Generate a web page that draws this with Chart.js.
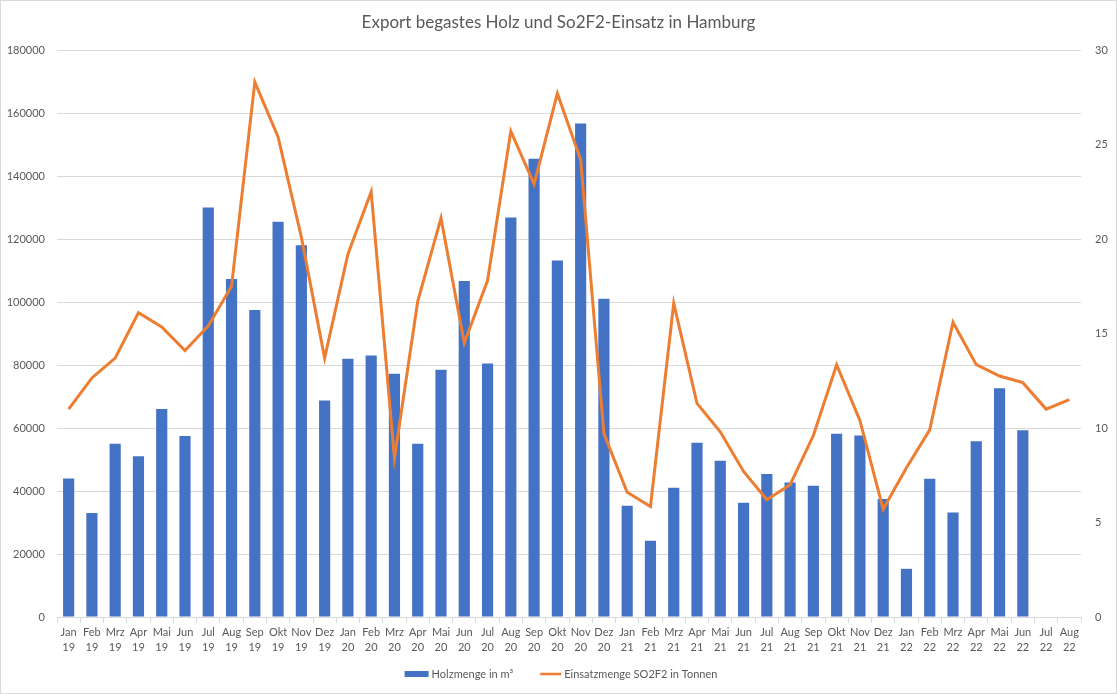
<!DOCTYPE html>
<html>
<head>
<meta charset="utf-8">
<script src="https://cdn.jsdelivr.net/npm/chart.js@4.4.0/dist/chart.umd.min.js"></script>
<style>
html,body{margin:0;padding:0;background:#fff;}
#wrap{width:1117px;height:694px;position:relative;}
</style>
</head>
<body>
<div id="wrap"><canvas id="c" width="1117" height="694"></canvas></div>
<script>
const months = ["Jan","Feb","Mrz","Apr","Mai","Jun","Jul","Aug","Sep","Okt","Nov","Dez"];
const years = ["19","20","21","22"];
const categories = [];
for (const y of years) for (const m of months) categories.push([m, y]);
categories.length = 44; // Jan 19 .. Aug 22

const holzmenge = [
  44000, 33000, 55000, 51000, 66000, 57500, 130000, 107300, 97500, 125500, 118000, 68700,
  82000, 83000, 77200, 55000, 78500, 106700, 80500, 126800, 145500, 113200, 156700, 101000,
  35300, 24200, 41000, 55300, 49600, 36300, 45400, 42700, 41700, 58200, 57600, 37500,
  15300, 43900, 33200, 55800, 72600, 59300, null, null
];
const einsatzmenge = [
  11.0, 12.65, 13.7, 16.1, 15.35, 14.1, 15.4, 17.5, 28.3, 25.4, 20.1, 13.7,
  19.2, 22.5, 8.4, 16.7, 21.1, 14.5, 17.8, 25.7, 22.9, 27.7, 24.2, 9.7,
  6.6, 5.85, 16.6, 11.3, 9.8, 7.7, 6.2, 7.0, 9.6, 13.35, 10.4, 5.7,
  7.9, 9.9, 15.6, 13.35, 12.75, 12.4, 11.0, 11.5
];
const leftTicks = [0, 180000, 20000];
const rightTicks = [0, 30, 5];

const FONT = "Lato, 'Open Sans', sans-serif";
const TXT = "#595959";
const GRID = "#d9d9d9";

const bgPlugin = {
  id: 'bg',
  beforeDraw(chart) {
    const ctx = chart.ctx;
    ctx.save();
    ctx.fillStyle = '#fff';
    ctx.fillRect(0, 0, chart.width, chart.height);
    ctx.strokeStyle = GRID;
    ctx.lineWidth = 1;
    ctx.strokeRect(0.5, 0.5, chart.width - 1, chart.height - 1);
    ctx.restore();
  }
};

// Legend drawn from the datasets (Excel-like spacing)
const legendPlugin = {
  id: 'xlLegend',
  afterDraw(chart) {
    const ctx = chart.ctx;
    const ds = chart.data.datasets;
    const symW = [24, 21], symGap = 3, itemGap = 27;
    ctx.save();
    ctx.font = "11px " + FONT;
    const widths = ds.map(d => ctx.measureText(d.label).width);
    const total = symW[0] + symGap + widths[0] + itemGap + symW[1] + symGap + widths[1];
    let x = 561 - total / 2;
    const y = 674;
    ctx.textBaseline = 'middle';
    ctx.textAlign = 'left';
    ds.forEach((d, i) => {
      if (d.type === 'bar') {
        ctx.fillStyle = d.backgroundColor;
        ctx.fillRect(x, y - 3, symW[i], 6);
      } else {
        ctx.strokeStyle = d.borderColor;
        ctx.lineWidth = 2.5;
        ctx.beginPath();
        ctx.moveTo(x, y);
        ctx.lineTo(x + symW[i], y);
        ctx.stroke();
      }
      x += symW[i] + symGap;
      ctx.fillStyle = TXT;
      ctx.fillText(d.label, x, y);
      x += widths[i] + itemGap;
    });
    ctx.restore();
  }
};

new Chart(document.getElementById('c'), {
  type: 'bar',
  data: {
    labels: categories,
    datasets: [
      {
        type: 'bar',
        label: 'Holzmenge in m³',
        data: holzmenge,
        backgroundColor: '#4472C4',
        borderWidth: 0,
        barPercentage: 0.48,
        categoryPercentage: 1.0,
        yAxisID: 'y',
        order: 2
      },
      {
        type: 'line',
        label: 'Einsatzmenge SO2F2 in Tonnen',
        data: einsatzmenge,
        borderColor: '#ED7D31',
        backgroundColor: '#ED7D31',
        borderWidth: 3,
        pointRadius: 0,
        tension: 0,
        yAxisID: 'y1',
        order: 1
      }
    ]
  },
  options: {
    responsive: false,
    animation: false,
    devicePixelRatio: 1,
    layout: { padding: { left: 0, right: 0, top: 0, bottom: 37 } },
    plugins: {
      title: {
        display: true,
        text: 'Export begastes Holz und So2F2-Einsatz in Hamburg',
        color: TXT,
        font: { family: FONT, size: 17, weight: 'normal', lineHeight: 1.2 },
        padding: { top: 12, bottom: 17.6 }
      },
      legend: { display: false },
      tooltip: { enabled: false }
    },
    scales: {
      x: {
        offset: true,
        grid: { offset: true, drawOnChartArea: false, drawTicks: true, tickLength: 6, color: GRID },
        border: { color: GRID },
        ticks: {
          color: TXT, font: { family: FONT, size: 11, lineHeight: 1.36 },
          maxRotation: 0, autoSkip: false, padding: 2
        },
        afterFit(s) { s.height = 40; }
      },
      y: {
        position: 'left',
        min: leftTicks[0], max: leftTicks[1],
        ticks: {
          stepSize: leftTicks[2], color: TXT, font: { family: FONT, size: 11 }, padding: 12,
          callback: (v) => String(v)
        },
        grid: { color: GRID, drawTicks: false },
        border: { display: false },
        afterFit(s) { s.width = 57; }
      },
      y1: {
        position: 'right',
        min: rightTicks[0], max: rightTicks[1],
        ticks: { stepSize: rightTicks[2], color: TXT, font: { family: FONT, size: 11 }, padding: 14 },
        grid: { display: false, drawTicks: false },
        border: { display: false },
        afterFit(s) { s.width = 36; }
      }
    }
  },
  plugins: [bgPlugin, legendPlugin]
});
</script>
</body>
</html>
